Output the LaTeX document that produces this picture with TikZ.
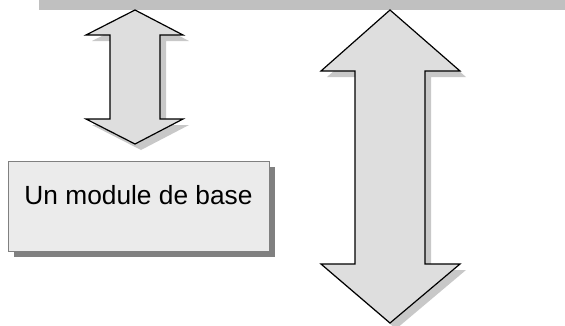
\documentclass[tikz,border=0pt]{standalone}
\usepackage{fontspec}
\setmainfont{Liberation Sans}
\usetikzlibrary{shadows}
\definecolor{bargray}{HTML}{C0C0C0}
\definecolor{arrowfill}{HTML}{DEDEDE}
\definecolor{arrowshade}{HTML}{C8C8C8}
\definecolor{boxfill}{HTML}{EBEBEB}
\definecolor{boxshade}{HTML}{808080}
\tikzstyle{bigarrow} = [draw=black, line width=1.2pt, fill=arrowfill, drop shadow={shadow xshift=6pt, shadow yshift=-6pt, fill=arrowshade, opacity=1}]
\tikzstyle{modbox} = [rectangle, draw=boxshade, line width=0.8pt, fill=boxfill, minimum width=261pt, minimum height=90pt, drop shadow={shadow xshift=6pt, shadow yshift=-6pt, fill=boxshade, opacity=1}]

\begin{document}
\begin{tikzpicture}[x=1pt, y=-1pt]
          \useasboundingbox (0,0) rectangle (565,325);
          \fill [bargray] (39,0) rectangle (565,10); %

          %% Arrows
          \draw [bigarrow] (135,10) -- (183,35) -- (160,35) -- (160,119) -- (183,119) -- (135,144)
                           -- (86,119) -- (110,119) -- (110,35) -- (86,35) -- cycle; %
          \draw [bigarrow] (390,10) -- (460,71) -- (425,71) -- (425,264) -- (460,264) -- (390,323)
                           -- (321,264) -- (355,264) -- (355,71) -- (321,71) -- cycle; %

          %% Module
          \node (base) [modbox] at (138.5,206) {}; %
          \node (basetext) [anchor=base, inner sep=0pt, font=\fontsize{26.3}{30}\selectfont] at (138.5,204) {Un module de base}; %
        \end{tikzpicture}
\end{document}
